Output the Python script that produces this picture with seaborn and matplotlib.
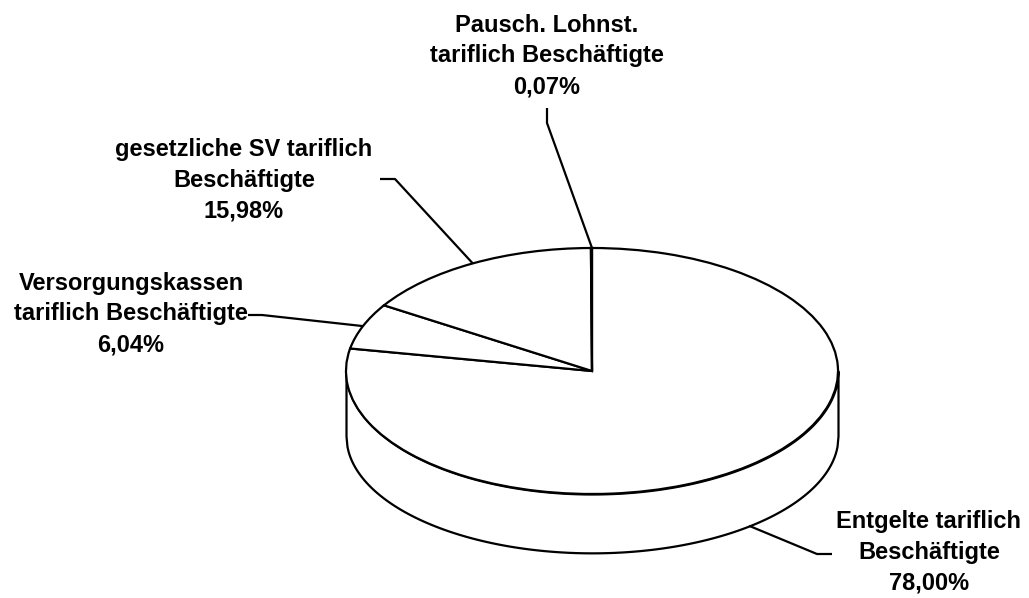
import numpy as np
import matplotlib
matplotlib.use('Agg')
import matplotlib.pyplot as plt
import seaborn as sns

# slices, clockwise from 12 o'clock
labels = ['Entgelte tariflich\nBeschäftigte',
          'Versorgungskassen\ntariflich Beschäftigte',
          'gesetzliche SV tariflich\nBeschäftigte',
          'Pausch. Lohnst.\ntariflich Beschäftigte']
values = [78.00, 6.04, 15.98, 0.07]

sns.set_theme(style='white')
plt.rcParams['font.family'] = ['Liberation Sans', 'DejaVu Sans']

W, H = 1029, 598
cx, cy = 592, 371      # pie centre in pixels
rx, ry = 246, 123      # top ellipse radii in pixels
depth = 65 / ry        # side height, in y units
kb = 0.95              # bottom rim slightly flatter (perspective)


def px(x, y):
    # pixel position -> data units (unit circle = top face)
    return (x - cx) / rx, (cy - y) / ry


fig = plt.figure(figsize=(W / 100, H / 100), dpi=100)
ax = fig.add_axes([0, 0, 1, 1])

# side wall of the cylinder
xs = np.linspace(-1, 1, 500)
top = -np.sqrt(1 - xs ** 2)
ax.fill_between(xs, top, kb * top - depth, facecolor='white',
                edgecolor='black', linewidth=1.6, zorder=1)

# top face
wedges, _ = ax.pie(values, startangle=90, counterclock=False,
                   wedgeprops=dict(facecolor='white', edgecolor='black',
                                   linewidth=1.6))
for w in wedges:
    w.set_zorder(2)

ax.set_aspect('auto')
x0, y0 = px(0, H)
x1, y1 = px(W, 0)
ax.set_xlim(x0, x1)
ax.set_ylim(y0, y1)
ax.axis('off')

# label layout: text centre, elbow, line end near text (pixels)
text_pos = [(929, 552), (131, 314), (244, 180), (547, 56)]
elbows = [(817, 554), (262, 315), (395, 179), (547, 123)]
line_ends = [(832, 554), (248, 315), (380, 179), (547, 108)]

total = sum(values)
start = 90.0
for i, v in enumerate(values):
    span = v / total * 360
    mid = np.radians(start - span / 2)
    start -= span
    ax_, ay_ = np.cos(mid), np.sin(mid)
    if i == 3:
        # tiny slice: anchor at its edge on the rim
        ax_, ay_ = 0.0, 1.0
    if ay_ < 0:
        ay_ = kb * ay_ - depth
    ex, ey = px(*elbows[i])
    lx, ly = px(*line_ends[i])
    ax.plot([ax_, ex, lx], [ay_, ey, ly], color='black', lw=1.6,
            solid_capstyle='butt', zorder=3)
    pct = f'{v:.2f}'.replace('.', ',') + '%'
    tx, ty = px(*text_pos[i])
    ax.text(tx, ty, labels[i] + '\n' + pct, ha='center', va='center',
            fontsize=17, fontweight='bold', color='black',
            linespacing=1.42)

fig.savefig('out.png', dpi=100)
